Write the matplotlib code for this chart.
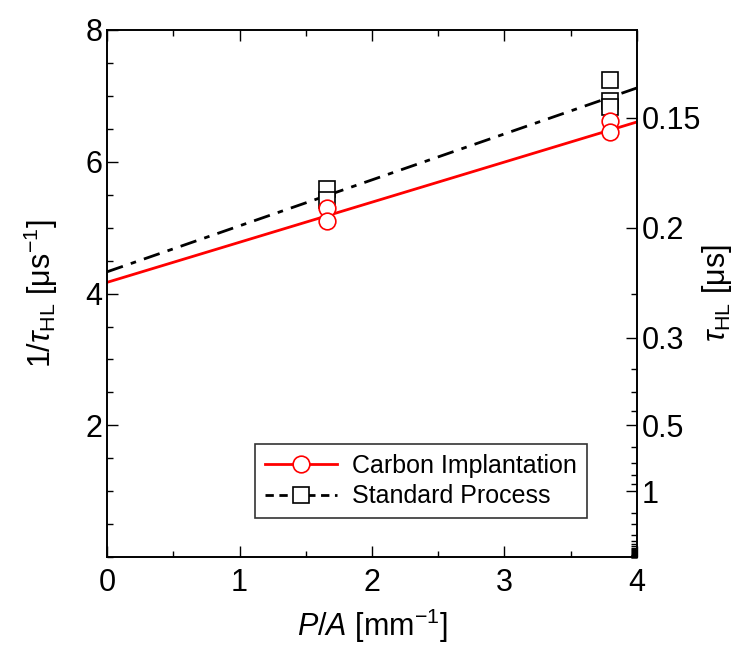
import numpy as np
from matplotlib import pyplot as plt

plt.rcParams['font.family'] = ['Liberation Sans', 'DejaVu Sans']
plt.rcParams['mathtext.fontset'] = 'custom'
plt.rcParams['mathtext.rm'] = 'Liberation Sans'
plt.rcParams['mathtext.it'] = 'Liberation Sans:italic'

# measured points (P/A in mm^-1, 1/tau_HL in us^-1)
carbon_x = [1.66, 1.66, 3.80, 3.80]
carbon_y = [5.29, 5.10, 6.61, 6.45]
standard_x = [1.66, 1.66, 3.80, 3.80, 3.80]
standard_y = [5.58, 5.42, 7.24, 6.92, 6.83]

# linear fits: (intercept, slope)
carbon_fit = (4.17, 0.608)
standard_fit = (4.33, 0.697)

fit_x = [0, 4]

# right axis: tau_HL [us]
tau_major = [0.15, 0.2, 0.3, 0.5, 1]
tau_labels = ['0.15', '0.2', '0.3', '0.5', '1']
tau_minor = [0.25, 0.35, 0.4, 0.45, 0.6, 0.7, 0.8, 0.9, 1.5,
             2, 3, 4, 5, 6, 7, 8, 9, 10, 12, 15, 20, 25, 30, 40, 50,
             60, 80, 100, 150, 200, 300, 500, 1000]

fig = plt.figure(figsize=(7.44, 6.48), dpi=100)
ax = fig.add_axes([0.144, 0.140, 0.712, 0.814])

fx = np.array(fit_x, dtype=float)
dashdot = (0, (6, 3, 2, 3))
ax.plot(fx, carbon_fit[0] + carbon_fit[1] * fx, color='red', lw=2, zorder=2)
ax.plot(fx, standard_fit[0] + standard_fit[1] * fx, color='black', lw=2,
        linestyle=dashdot, zorder=2)
ax.plot(standard_x, standard_y, linestyle='none', marker='s', ms=12,
        mfc='white', mec='black', mew=1.2, zorder=3)
ax.plot(carbon_x, carbon_y, linestyle='none', marker='o', ms=12,
        mfc='white', mec='red', mew=1.2, zorder=4)

# legend proxies
ax.plot([], [], color='red', lw=2, marker='o', ms=12, mfc='white', mec='red',
        mew=1.2, label='Carbon Implantation')
ax.plot([], [], color='black', lw=2, linestyle=(0, (3, 2)), marker='s',
        ms=12, mfc='white', mec='black', mew=1.2, label='Standard Process')

ax.set_xlim(0, 4)
ax.set_ylim(0, 8)
ax.set_xticks([0, 1, 2, 3, 4])
ax.set_xticks(np.arange(0, 4.01, 0.5), minor=True)
ax.set_yticks([2, 4, 6, 8])
ax.set_yticks(np.arange(0, 8.01, 0.5), minor=True)
ax.tick_params(which='both', direction='in', top=True, right=False,
               labelsize=22, width=1)
ax.tick_params(which='major', length=8)
ax.tick_params(which='minor', length=4)
ax.tick_params(axis='x', pad=8)
ax.set_xlabel(r'$P$/$A$ [mm$^{-1}$]', fontsize=22, labelpad=6)
ax.set_ylabel(r'1/$\tau_{\rm HL}$ [$\mathrm{\mu}$s$^{-1}$]', fontsize=22,
              labelpad=18)

ax2 = ax.twinx()
ax2.set_ylim(0, 8)
ax2.set_yticks([1 / t for t in tau_major])
ax2.set_yticklabels(tau_labels)
ax2.set_yticks([1 / t for t in tau_minor], minor=True)
ax2.tick_params(which='both', direction='in', labelsize=22, width=1)
ax2.tick_params(which='major', length=8)
ax2.tick_params(which='minor', length=4)
ax2.set_ylabel(r'$\tau_{\rm HL}$ [$\mathrm{\mu}$s]', fontsize=22, labelpad=-1)

for a in (ax, ax2):
    for s in a.spines.values():
        s.set_linewidth(1.2)

leg = ax.legend(loc='lower right', bbox_to_anchor=(0.93, 0.05), fontsize=18,
                frameon=True, fancybox=False, edgecolor='black',
                handlelength=2.9, handletextpad=0.6, borderpad=0.4,
                labelspacing=0.25)
leg.get_frame().set_linewidth(1.2)

fig.savefig('out.png', dpi=100)
